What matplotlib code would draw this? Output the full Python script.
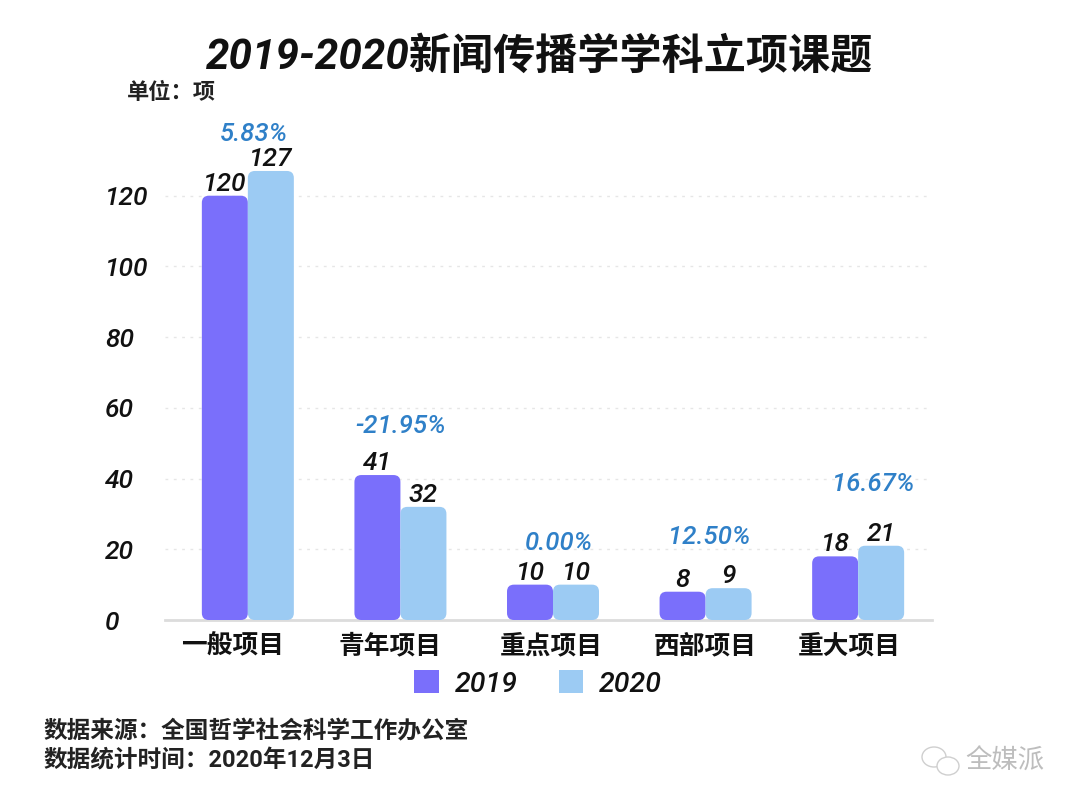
import numpy as np
import matplotlib
matplotlib.use('Agg')
import matplotlib.pyplot as plt
from matplotlib.patches import FancyBboxPatch, Ellipse
from matplotlib.transforms import ScaledTranslation

plt.rcParams['font.family'] = ['Roboto', 'Noto Sans CJK SC', 'DejaVu Sans']

# data
categories = ['一般项目', '青年项目', '重点项目', '西部项目', '重大项目']
values_2019 = [120, 41, 10, 8, 18]
values_2020 = [127, 32, 10, 9, 21]
changes = ['5.83%', '-21.95%', '0.00%', '12.50%', '16.67%']
yticks = [0, 20, 40, 60, 80, 100, 120]

# pixel nudges for the change labels and the category labels
change_dx = [6, 0, 6, 4, 15]
change_dy = [37, 49, 42, 51, 62]
label_dx = [-15, -10, -2, 0, -9]

color_2019 = '#7a6ffb'
color_2020 = '#9ccbf3'
W, H = 1080, 809

fig = plt.figure(figsize=(W / 100, H / 100), dpi=100)
# axes box: x 165-932 px, y 620 px is zero
ax = fig.add_axes([165 / W, 1 - 620 / H, (932 - 165) / W, (620 - 125) / H])
ax.set_xlim(-0.543, 4.484)
ax.set_ylim(0, 140)

px_x = (932 - 165) / (4.484 + 0.543)
px_y = (620 - 125) / 140
bar_w = 46 / px_x
aspect = px_x / px_y


def rounded_bars(xs, vals, color):
    # bar() keeps the scales right, the rounded patch is what shows
    bars = ax.bar(xs, vals, bar_w, color='none', linewidth=0)
    for b in bars:
        r = min(7 / px_x, 0.45 * b.get_height() * px_y / px_x)
        ax.add_patch(FancyBboxPatch((b.get_x(), 0), b.get_width(), b.get_height(),
                                    boxstyle='round,pad=0,rounding_size=%f' % r,
                                    mutation_aspect=aspect, fc=color, ec='none',
                                    zorder=3, clip_on=False))


x = np.arange(len(categories))
rounded_bars(x - bar_w / 2, values_2019, color_2019)
rounded_bars(x + bar_w / 2, values_2020, color_2020)

for v in yticks[1:]:
    ax.axhline(v, color='#e6e6e6', lw=1, ls=(0, (2, 4)), zorder=1)

for s in ['top', 'right', 'left']:
    ax.spines[s].set_visible(False)
ax.spines['bottom'].set_color('#dcdcdc')
ax.spines['bottom'].set_linewidth(2)

ax.set_yticks(yticks)
ax.set_yticklabels([str(v) for v in yticks], fontsize=19, style='italic',
                   fontweight='medium', color='#111111', ha='left')
ax.set_xticks(x)
ax.set_xticklabels(categories, fontsize=18.5, color='#111111', fontweight='bold')
ax.tick_params(axis='y', length=0, pad=43)
ax.tick_params(axis='x', length=0, pad=10)
for lab, dx in zip(ax.get_xticklabels(), label_dx):
    lab.set_transform(lab.get_transform() + ScaledTranslation(dx / 100, 0, fig.dpi_scale_trans))

# value labels over the bars
for i in range(len(categories)):
    ax.annotate(str(values_2019[i]), (x[i] - bar_w / 2, values_2019[i]), xytext=(0, 0),
                textcoords='offset points', ha='center', va='bottom', fontsize=19,
                style='italic', fontweight='medium', color='#111111', zorder=4)
    ax.annotate(str(values_2020[i]), (x[i] + bar_w / 2, values_2020[i]), xytext=(0, 0),
                textcoords='offset points', ha='center', va='bottom', fontsize=19,
                style='italic', fontweight='medium', color='#111111', zorder=4)
    top = max(values_2019[i], values_2020[i])
    ax.annotate(changes[i], (x[i], top),
                xytext=(change_dx[i] * 0.72, change_dy[i] * 0.72),
                textcoords='offset points', ha='center', va='center', fontsize=18.5,
                style='italic', fontweight='medium', color='#2f80c8', zorder=4)

# legend
handles = [plt.Rectangle((0, 0), 1, 1, fc=color_2019, ec='none'),
           plt.Rectangle((0, 0), 1, 1, fc=color_2020, ec='none')]
fig.legend(handles, ['2019', '2020'], ncol=2, frameon=False, loc='center',
           bbox_to_anchor=(538 / W, 1 - 684 / H),
           prop={'size': 20.5, 'style': 'italic', 'weight': 'medium'},
           handlelength=0.85, handleheight=0.85, handletextpad=0.55, columnspacing=1.45,
           labelcolor='#111111')

# title, unit and source
fig.text(540 / W, 1 - 57 / H, '2019-2020新闻传播学学科立项课题', ha='center', va='center',
         fontsize=30.3, fontweight='bold', style='italic', color='#111111')
fig.text(127 / W, 1 - 93 / H, '单位：项', ha='left', va='center', fontsize=16,
         fontweight='bold', color='#222222')
fig.text(44 / W, 1 - 732 / H, '数据来源：全国哲学社会科学工作办公室', ha='left', va='center',
         fontsize=17, fontweight='bold', color='#222222')
fig.text(44 / W, 1 - 761 / H, '数据统计时间：2020年12月3日', ha='left', va='center',
         fontsize=17, fontweight='bold', color='#222222')

# watermark
fig.text(965 / W, 1 - 761 / H, '全媒派', ha='left', va='center', fontsize=19,
         color='#bdbdbd', fontweight='light')
fig.add_artist(Ellipse((934 / W, 1 - 757 / H), 24 / W, 20 / H, fc='none', ec='#cfcfcf',
                       lw=1, transform=fig.transFigure))
fig.add_artist(Ellipse((948 / W, 1 - 766 / H), 22 / W, 18 / H, fc='white', ec='#cfcfcf',
                       lw=1, transform=fig.transFigure))

fig.savefig('out.png', dpi=100)
